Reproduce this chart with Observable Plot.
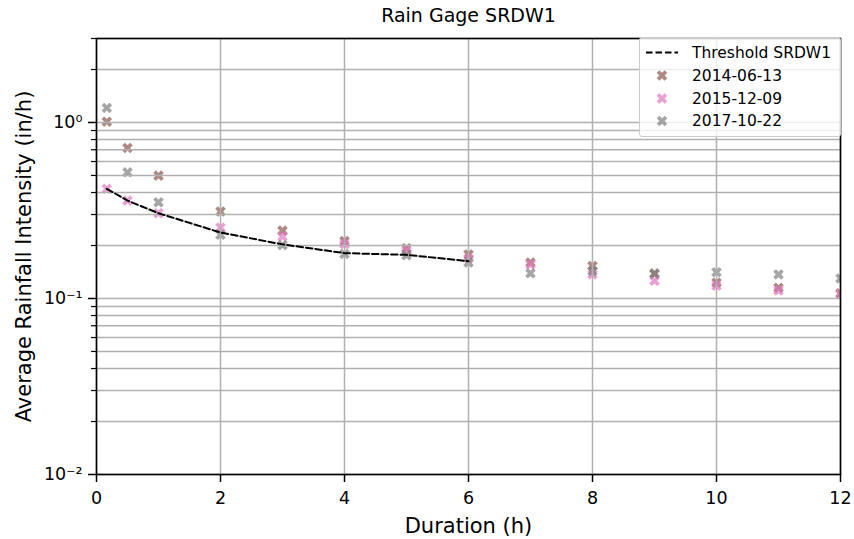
<!DOCTYPE html>
<html>
<head>
<meta charset="utf-8">
<script src="https://cdn.jsdelivr.net/npm/d3@7"></script>
<script src="https://cdn.jsdelivr.net/npm/@observablehq/plot@0.6"></script>
<style>
  body { margin: 0; background: #fff; }
  #wrap { position: relative; width: 854px; height: 539px; font-family: "DejaVu Sans", sans-serif; color: #000; }
  #legend { position: absolute; left: 639px; top: 37px; width: 200px; height: 98px;
    background: rgba(255,255,255,0.8); border: 1px solid #cccccc; border-radius: 3px; }
  #legend svg { position: absolute; left: 0; top: 0; }
</style>
</head>
<body>
<div id="wrap"></div>
<script>
// ---- data ----
const title = "Rain Gage SRDW1";
const xLabel = "Duration (h)";
const yLabel = "Average Rainfall Intensity (in/h)";

const durations = [0.1667, 0.5, 1, 2, 3, 4, 5, 6, 7, 8, 9, 10, 11, 12];
const thresholdDurations = [0.1667, 0.5, 1, 2, 3, 4, 5, 6];
const thresholdValues = [0.42, 0.36, 0.305, 0.237, 0.203, 0.181, 0.177, 0.163];

const seriesNames = ["2014-06-13", "2015-12-09", "2017-10-22"];
const s20140613 = [1.01, 0.717, 0.499, 0.312, 0.243, 0.212, 0.193, 0.178, 0.16, 0.153, 0.138, 0.123, 0.115, 0.107];
const s20151209 = [0.42, 0.36, 0.305, 0.253, 0.225, 0.204, 0.187, 0.169, 0.156, 0.137, 0.126, 0.118, 0.111, 0.106];
const s20171022 = [1.21, 0.521, 0.352, 0.23, 0.201, 0.179, 0.176, 0.16, 0.139, 0.143, 0.139, 0.141, 0.137, 0.13];
const seriesColors = ["#8c564b", "#e377c2", "#7f7f7f"];
const thresholdName = "Threshold SRDW1";

const xTicks = [0, 2, 4, 6, 8, 10, 12];
const yMajorTicks = [0.01, 0.1, 1];
const yMajorLabels = ["10⁻²", "10⁻¹", "10⁰"];
const yMinorTicks = [0.02, 0.03, 0.04, 0.05, 0.06, 0.07, 0.08, 0.09,
                     0.2, 0.3, 0.4, 0.5, 0.6, 0.7, 0.8, 0.9, 2, 3];

// ---- build tables ----
const seriesArrays = [s20140613, s20151209, s20171022];
const points = [];
seriesArrays.forEach((arr, si) => arr.forEach((v, i) => points.push({x: durations[i], y: v, s: seriesNames[si]})));
const threshold = thresholdDurations.map((d, i) => ({x: d, y: thresholdValues[i]}));

// filled "X" marker like matplotlib
const filledX = {
  draw(context, size) {
    const r = Math.sqrt(size / Math.PI);
    const s = 2 * r / 6;
    const base = [[-1,-3],[1,-3],[1,-1],[3,-1],[3,1],[1,1],[1,3],[-1,3],[-1,1],[-3,1],[-3,-1],[-1,-1]];
    const c = Math.SQRT1_2;
    base.forEach(([px, py], i) => {
      const X = (px * c - py * c) * s, Y = (px * c + py * c) * s;
      if (i === 0) context.moveTo(X, Y); else context.lineTo(X, Y);
    });
    context.closePath();
  }
};

const font = "DejaVu Sans";
const chart = Plot.plot({
  width: 854,
  height: 539,
  marginLeft: 96,
  marginRight: 14,
  marginTop: 38,
  marginBottom: 65,
  style: {fontFamily: font, color: "#000", background: "#fff", overflow: "visible"},
  x: {domain: [0, 12]},
  y: {type: "log", domain: [0.01, 3]},
  color: {domain: seriesNames, range: seriesColors},
  marks: [
    Plot.dot(points, {x: "x", y: "y", fill: "s", symbol: filledX, r: 5.6, fillOpacity: 0.7, clip: true}),
    Plot.gridX(xTicks, {stroke: "#b0b0b0", strokeOpacity: 1, strokeWidth: 1.5}),
    Plot.gridY([...yMajorTicks, ...yMinorTicks], {stroke: "#b0b0b0", strokeOpacity: 1, strokeWidth: 1.5}),
    Plot.line(threshold, {x: "x", y: "y", stroke: "#000", strokeWidth: 2, strokeDasharray: "6.5,3"}),
    Plot.frame({stroke: "#000", strokeWidth: 1.6}),
    Plot.axisX(xTicks, {tickSize: 8, tickPadding: 9, fontSize: 17.5, stroke: "#000", strokeWidth: 1.5, label: null}),
    Plot.axisY(yMajorTicks, {tickSize: 8, tickPadding: 6, fontSize: 17.5, stroke: "#000", strokeWidth: 1.5,
      tickFormat: d => yMajorLabels[yMajorTicks.indexOf(d)], label: null}),
    Plot.axisY(yMinorTicks, {tickSize: 5, stroke: "#000", strokeWidth: 1.2, tickFormat: () => "", label: null}),
    Plot.text([title], {frameAnchor: "top", dy: -23, lineAnchor: "middle", textAnchor: "middle", fontSize: 19, fill: "#000"}),
    Plot.text([xLabel], {frameAnchor: "bottom", dy: 52, lineAnchor: "middle", textAnchor: "middle", fontSize: 21, fill: "#000"}),
    Plot.text([yLabel], {frameAnchor: "left", dx: -72, rotate: -90, lineAnchor: "middle", textAnchor: "middle", fontSize: 21, fill: "#000"})
  ]
});
const wrap = document.getElementById("wrap");
wrap.appendChild(chart);

// ---- legend ----
const legend = document.createElement("div");
legend.id = "legend";
wrap.appendChild(legend);
const lsvg = d3.select(legend).append("svg").attr("width", 200).attr("height", 98)
  .style("font-family", font).style("font-size", "15.5px");
const rows = [thresholdName, ...seriesNames];
const rowY = [14.5, 37.5, 60.5, 83];
rows.forEach((name, i) => {
  const g = lsvg.append("g").attr("transform", `translate(0,${rowY[i]})`);
  if (i === 0) {
    g.append("line").attr("x1", 6).attr("x2", 38).attr("y1", 0).attr("y2", 0)
      .attr("stroke", "#000").attr("stroke-width", 2).attr("stroke-dasharray", "6.5,3");
  } else {
    g.append("path").attr("d", d3.symbol(filledX, 5.6 * 5.6 * Math.PI)())
      .attr("transform", "translate(22,0)")
      .attr("fill", seriesColors[i - 1]).attr("fill-opacity", 0.7);
  }
  g.append("text").attr("x", 52).attr("y", 0).attr("dy", "0.35em").attr("fill", "#000").text(name);
});
</script>
</body>
</html>
